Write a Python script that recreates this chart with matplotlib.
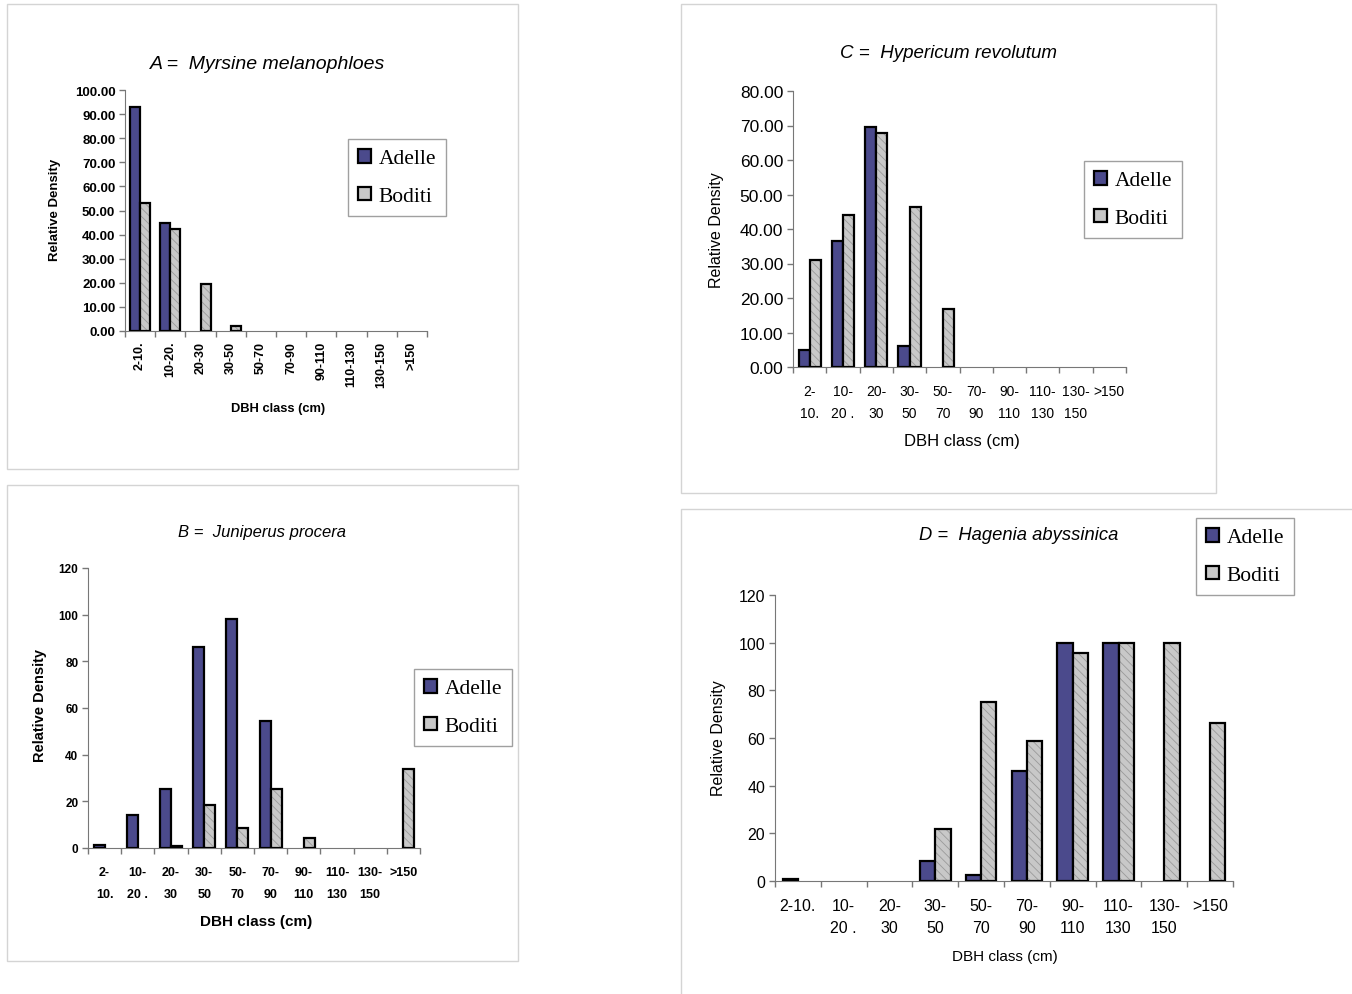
import numpy as np
import matplotlib.pyplot as plt
from matplotlib.patches import Patch, Rectangle

plt.rcParams['font.family'] = ['Liberation Sans', 'DejaVu Sans']
plt.rcParams['hatch.linewidth'] = 0.6

W, H = 1352, 995

classes_rot = ["2-10.", "10-20.", "20-30", "30-50", "50-70", "70-90",
               "90-110", "110-130", "130-150", ">150"]
classes_two = ["2-\n10.", "10-\n20 .", "20-\n30", "30-\n50", "50-\n70", "70-\n90",
               "90-\n110", "110-\n130", "130-\n150", ">150"]
classes_d = ["2-10.", "10-\n20 .", "20-\n30", "30-\n50", "50-\n70", "70-\n90",
             "90-\n110", "110-\n130", "130-\n150", ">150"]

# A = Myrsine melanophloes
adelle_a = [93.0, 44.9, 0, 0, 0, 0, 0, 0, 0, 0]
boditi_a = [53.2, 42.4, 19.3, 2.2, 0, 0, 0, 0, 0, 0]
# C = Hypericum revolutum
adelle_c = [4.8, 36.6, 69.7, 6.0, 0, 0, 0, 0, 0, 0]
boditi_c = [30.9, 44.2, 67.9, 46.4, 16.9, 0, 0, 0, 0, 0]
# B = Juniperus procera
adelle_b = [1.1, 14.2, 25.2, 86.2, 98.2, 54.4, 0, 0, 0, 0]
boditi_b = [0, 0, 1.0, 18.3, 8.7, 25.2, 4.4, 0, 0, 33.8]
# D = Hagenia abyssinica
adelle_d = [1.0, 0, 0, 8.4, 2.6, 46.2, 100, 100, 0, 0]
boditi_d = [0, 0, 0, 21.9, 74.9, 58.9, 95.8, 100, 100, 66.5]

ADELLE = '#4b4a8c'
BODITI = '#c8c8c8'


def fx(x):
    return x / W


def fy(y):
    return 1 - y / H


fig = plt.figure(figsize=(W / 100, H / 100), dpi=100)

# panel frames
for (l, t, r, b) in [(7, 5, 518, 470), (681, 5, 1216, 494),
                     (7, 486, 518, 962), (681, 510, 1360, 1000)]:
    fig.add_artist(Rectangle((fx(l), fy(b)), fx(r - l), (b - t) / H,
                             transform=fig.transFigure, fill=False,
                             edgecolor='#d4d4d4', lw=1))


def panel(box, adelle, boditi, labels, ymax, ystep, yfmt, tfs, xfs, ylfs, xlfs,
          bold, title, titlefs, tpos, ylpos, xlpos, legpos, xpad, lsp=1.7,
          rot=False):
    l, t, r, b = box
    ax = fig.add_axes([fx(l), fy(b), fx(r - l), (b - t) / H])
    n = len(labels)
    x = np.arange(n) + 0.5
    w = 1 / 3
    a = np.where(np.array(adelle) > 0, adelle, np.nan)
    bo = np.where(np.array(boditi) > 0, boditi, np.nan)
    ax.bar(x - w / 2, a, w, color=ADELLE, edgecolor='black', lw=1.6, zorder=3)
    ax.bar(x + w / 2, bo, w, color=BODITI, edgecolor='#9a9a9a', lw=0,
           hatch='\\\\\\\\', zorder=3)
    ax.bar(x + w / 2, bo, w, fill=False, edgecolor='black', lw=1.6, zorder=4)
    ax.set_xlim(0, n)
    ax.set_ylim(0, ymax)
    ticks = np.arange(0, ymax + 0.1, ystep)
    ax.set_yticks(ticks)
    ax.set_yticklabels([yfmt.format(v) for v in ticks], fontsize=tfs,
                       fontweight=bold)
    ax.set_xticks(np.arange(n + 1))
    ax.set_xticklabels([])
    ax.set_xticks(x, minor=True)
    if rot:
        ax.set_xticklabels(labels, minor=True, rotation=90, fontsize=xfs,
                           fontweight=bold, va='top')
    else:
        ax.set_xticklabels(labels, minor=True, fontsize=xfs, fontweight=bold,
                           linespacing=lsp)
    ax.tick_params(axis='x', which='minor', length=0, pad=xpad)
    ax.tick_params(axis='both', which='major', length=4, width=1,
                   color='#777777', direction='out')
    ax.tick_params(axis='y', pad=3)
    for s in ['top', 'right']:
        ax.spines[s].set_visible(False)
    for s in ['left', 'bottom']:
        ax.spines[s].set_color('#777777')
    ax.set_facecolor('none')
    fig.text(fx(tpos[0]), fy(tpos[1]), title, style='italic', fontsize=titlefs,
             ha='center', va='center')
    fig.text(fx(ylpos[0]), fy(ylpos[1]), 'Relative Density', rotation=90,
             fontsize=ylfs, fontweight=bold, ha='center', va='center')
    fig.text(fx(xlpos[0]), fy(xlpos[1]), 'DBH class (cm)', fontsize=xlfs,
             fontweight=bold, ha='center', va='center')
    handles = [Patch(facecolor=ADELLE, edgecolor='black', lw=1.6),
               Patch(facecolor=BODITI, edgecolor='black', lw=1.6)]
    fig.legend(handles, ['Adelle', 'Boditi'], loc='upper left',
               bbox_to_anchor=(fx(legpos[0]), fy(legpos[1])),
               borderaxespad=0, fancybox=False, framealpha=1,
               edgecolor='#a0a0a0', handlelength=0.62, handleheight=0.62,
               handletextpad=0.35, labelspacing=0.85, borderpad=0.45,
               prop={'family': 'Liberation Serif', 'size': 15.5})
    return ax


panel((125, 91, 427, 332), adelle_a, boditi_a, classes_rot, 100, 10, '{:.2f}',
      9.5, 9, 9.5, 9.3, 'bold', 'A =  Myrsine melanophloes', 14, (268, 65),
      (55, 210), (278, 409), (348, 140), 7, rot=True)
panel((793, 92, 1126, 368), adelle_c, boditi_c, classes_two, 80, 10, '{:.2f}',
      12.5, 10, 11.5, 12, 'normal', 'C =  Hypericum revolutum', 13.5, (948, 53),
      (717, 230), (962, 442), (1084, 162), 12, lsp=1.75)
panel((88, 569, 420, 849), adelle_b, boditi_b, classes_two, 120, 20, '{:.0f}',
      8.5, 9, 10.5, 11, 'bold', 'B =  Juniperus procera', 12, (262, 532),
      (40, 706), (256, 922), (414, 670), 13, lsp=2.1)
panel((775, 596, 1233, 882), adelle_d, boditi_d, classes_d, 120, 20, '{:.0f}',
      11.5, 11.5, 11.5, 11, 'normal', 'D =  Hagenia abyssinica', 13.2, (1019, 535),
      (718, 738), (1005, 957), (1196, 519), 12, lsp=1.6)

fig.savefig('out.png', dpi=100)
